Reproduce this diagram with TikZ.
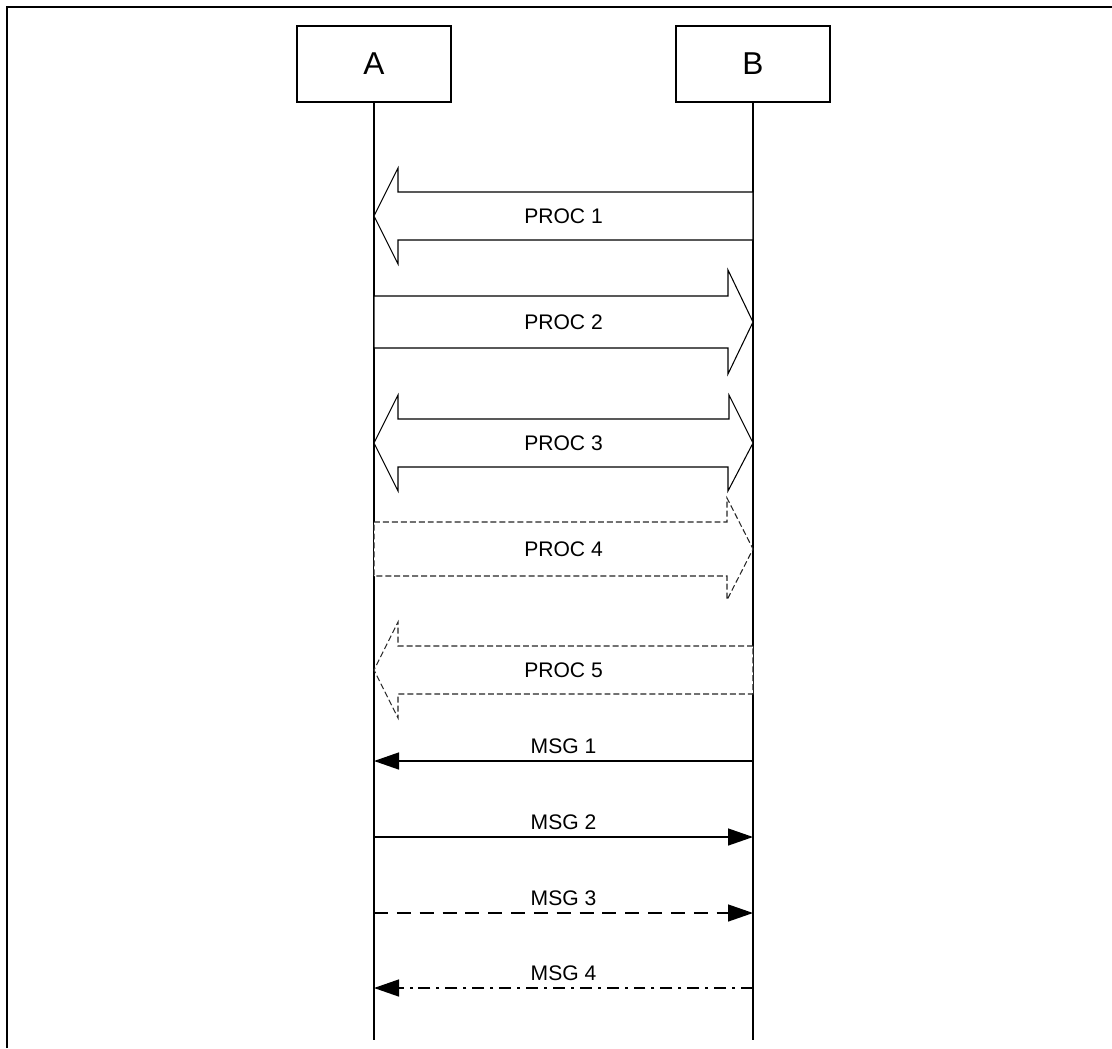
\documentclass[tikz,border=0pt]{standalone}
\usepackage{fontspec}
\setmainfont{Liberation Sans}
\usetikzlibrary{arrows.meta,calc}

\begin{document}
\begin{tikzpicture}[x=0.02cm,y=-0.02cm,font=\fontsize{12}{14}\selectfont,
  entity/.style={draw,line width=0.7pt,minimum width=3.08cm,minimum height=1.52cm,
    font=\fontsize{18}{21}\selectfont},
  life/.style={line width=0.8pt},
  fat/.style={draw,fill=white,line width=0.6pt,line join=miter},
  fatdash/.style={fat,draw=black!85,dash pattern=on 3.4pt off 1.7pt},
  msg/.style={line width=0.8pt,-{Triangle[length=0.5cm,width=0.34cm]}},
  msglbl/.style={above,inner sep=4pt}]
  \useasboundingbox (0,0) rectangle (1112,1048);
  % Outer frame, cut off at the right and at the bottom
  \draw[line width=1.4pt] (7,1048) -- (7,7) -- (1112,7);
  % The two parties and their lifelines
  \node[entity] (A) at (374,64) {A};
  \node[entity] (B) at (753,64) {B};
  \coordinate (Aend) at (A |- 0,1040);
  \coordinate (Bend) at (B |- 0,1040);
  \draw[life] (A) -- (Aend);
  \draw[life] (B) -- (Bend);
  \foreach \n/\y in {p1/216,p2/322,p3/443,p4/549,p5/670,m1/761,m2/837,m3/913,m4/988} {
    \coordinate (\n a) at (A |- 0,\y);
    \coordinate (\n b) at (B |- 0,\y);
  }
  % Procedures (block arrows)
  \draw[fat] (p1b) ++(0,-24) -- ++(-355,0) -- ++(0,-24) -- (p1a) -- ++(24,48) -- ++(0,-24)
    -- ++(355,0) -- cycle;
  \node (t1) at ($(p1a)!0.5!(p1b)$) {PROC 1};
  \draw[fat] (p2a) ++(0,-26) -- ++(354,0) -- ++(0,-26) -- (p2b) -- ++(-25,52) -- ++(0,-26)
    -- ++(-354,0) -- cycle;
  \node (t2) at ($(p2a)!0.5!(p2b)$) {PROC 2};
  \draw[fat] (p3a) -- ++(24,-48) -- ++(0,24) -- ++(331,0) -- ++(0,-24) -- (p3b) -- ++(-25,48)
    -- ++(0,-24) -- ++(-330,0) -- ++(0,24) -- cycle;
  \node (t3) at ($(p3a)!0.5!(p3b)$) {PROC 3};
  \draw[fatdash] (p4a) ++(0,-27) -- ++(353,0) -- ++(0,-24) -- (p4b) -- ++(-26,51) -- ++(0,-24)
    -- ++(-353,0) -- cycle;
  \node (t4) at ($(p4a)!0.5!(p4b)$) {PROC 4};
  \draw[fatdash] (p5b) ++(0,-24) -- ++(-355,0) -- ++(0,-24) -- (p5a) -- ++(24,48) -- ++(0,-24)
    -- ++(355,0) -- cycle;
  \node (t5) at ($(p5a)!0.5!(p5b)$) {PROC 5};
  % Messages
  \draw[msg] (m1b) -- (m1a) node[msglbl,midway] (l1) {MSG 1};
  \draw[msg] (m2a) -- (m2b) node[msglbl,midway] (l2) {MSG 2};
  \draw[msg,dash pattern=on 8pt off 5pt] (m3a) -- (m3b) node[msglbl,midway] (l3) {MSG 3};
  \draw[msg,dash pattern=on 6.8pt off 3.4pt on 1.7pt off 3.4pt] (m4b) -- (m4a)
    node[msglbl,midway] (l4) {MSG 4};
\end{tikzpicture}
\end{document}
